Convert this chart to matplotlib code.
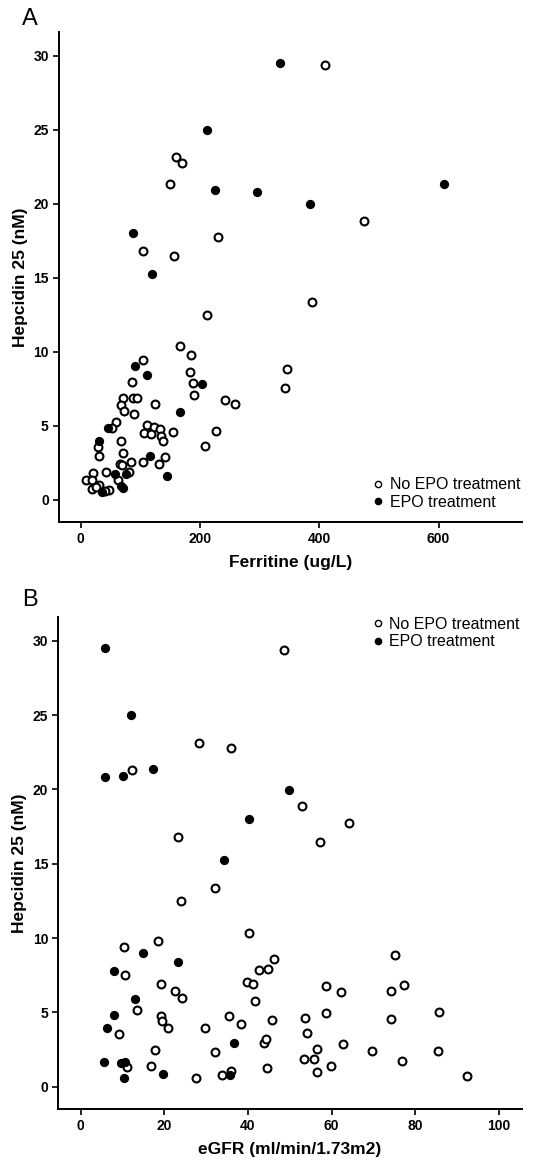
import numpy as np
import matplotlib.pyplot as plt
from matplotlib.lines import Line2D

plt.rcParams['font.family'] = ['Liberation Sans', 'DejaVu Sans']

# Panel A: ferritine (ug/L) vs hepcidin 25 (nM)
ferr_no = [410, 160, 169, 149, 475, 230, 105, 157, 387, 212,
           166, 185, 104, 183, 345, 85, 188, 343, 70, 88, 95, 189,
           68, 124, 242, 258, 72, 89, 59, 53, 111, 122, 133, 106, 118,
           134, 138, 154, 227, 28, 31, 67, 71, 208, 141, 131, 105, 84,
           65, 69, 43, 80, 20,
           8, 18, 30, 19, 47, 63, 25, 40]
hep_no_a = [29.39, 23.13, 22.75, 21.3, 18.85, 17.77, 16.78, 16.46, 13.35, 12.48,
            10.38, 9.80, 9.44, 8.60, 8.83, 7.93, 7.86, 7.52, 6.89, 6.89, 6.89, 7.07,
            6.40, 6.46, 6.76, 6.46, 5.99, 5.79, 5.23, 4.82, 5.04, 4.93, 4.77, 4.48, 4.44,
            4.28, 3.99, 4.57, 4.64, 3.56, 2.97, 3.94, 3.18, 3.63, 2.91, 2.43, 2.52, 2.52,
            2.39, 2.32, 1.89, 1.87, 1.78,
            1.31, 1.31, 1.01, 0.72, 0.68, 1.31, 0.88, 0.60]

ferr_epo = [334, 211, 225, 295, 609, 384, 87, 120,
            90, 111, 203, 166, 46, 31, 116,
            75, 58, 145, 36, 67, 70]
hep_epo_a = [29.53, 24.98, 20.92, 20.77, 21.35, 20.0, 18.0, 15.25,
             9.03, 8.42, 7.81, 5.95, 4.86, 3.94, 2.97,
             1.73, 1.76, 1.60, 0.56, 0.90, 0.83]

# Panel B: eGFR (ml/min/1.73m2) vs hepcidin 25 (nM)
egfr_no = [48.7, 28.3, 35.9, 12.4, 52.8, 64.2, 23.3, 57.3, 32.1, 23.9,
           40.2, 10.3, 18.5, 46.2, 42.7, 44.9, 10.6, 39.8, 41.3, 19.1,
           22.5, 24.3, 41.7, 13.5, 9.2, 19.1, 19.4, 21.0, 17.7, 29.8,
           35.5, 38.3, 45.8, 32.1, 43.8, 44.4, 53.7, 54.0, 58.7, 58.6,
           56.6, 62.8, 53.3, 55.7,
           75.1, 62.2, 74.2, 77.4, 85.7, 74.3, 69.6, 85.4, 76.8,
           11.1, 16.9, 59.8, 44.5, 27.5, 33.8, 36.0, 56.6, 92.4]
hep_no_b = [29.4, 23.12, 22.76, 21.33, 18.86, 17.77, 16.77, 16.45, 13.36, 12.46,
            10.37, 9.43, 9.79, 8.57, 7.88, 7.90, 7.50, 7.07, 6.91, 6.91,
            6.46, 5.95, 5.77, 5.19, 3.52, 4.74, 4.44, 3.97, 2.49, 3.97,
            4.78, 4.24, 4.49, 2.31, 2.94, 3.19, 4.62, 3.61, 6.76, 4.94,
            2.51, 2.87, 1.86, 1.86,
            8.84, 6.40, 6.44, 6.87, 5.05, 4.56, 2.38, 2.38, 1.71,
            1.30, 1.37, 1.41, 1.28, 0.58, 0.79, 1.03, 0.99, 0.69]

egfr_epo = [5.8, 12.1, 5.8, 10.2, 17.4, 49.8, 40.2, 34.2,
            14.9, 23.4, 7.9, 12.9, 7.9, 6.3, 36.7,
            5.6, 9.7, 10.6, 19.6, 10.3, 35.6]
hep_epo_b = [29.54, 24.98, 20.81, 20.92, 21.37, 19.98, 18.0, 15.26,
             9.02, 8.42, 7.81, 5.93, 4.85, 3.93, 2.96,
             1.68, 1.57, 1.68, 0.85, 0.56, 0.79]

W, H = 533, 1162
fig = plt.figure(figsize=(W / 100, H / 100), dpi=100)


def px_axes(left, top, right, bottom):
    return fig.add_axes([left / W, 1 - bottom / H, (right - left) / W, (bottom - top) / H])


def style(ax):
    for s in ['top', 'right']:
        ax.spines[s].set_visible(False)
    for s in ['left', 'bottom']:
        ax.spines[s].set_linewidth(1.4)
    ax.tick_params(direction='out', length=4, width=1.2, pad=3, labelsize=10)
    for lab in ax.get_xticklabels() + ax.get_yticklabels():
        lab.set_fontweight('bold')


def draw(ax, x_no, y_no, x_epo, y_epo):
    ax.scatter(x_no, y_no, s=32, facecolors='white', edgecolors='black', linewidths=1.5, zorder=3)
    ax.scatter(x_epo, y_epo, s=32, color='black', zorder=3)


handles = [Line2D([], [], marker='o', ls='', mfc='white', mec='black', mew=1.0, ms=4.5),
           Line2D([], [], marker='o', ls='', mfc='black', mec='black', ms=4.5)]
names = ['No EPO treatment', 'EPO treatment']

# panel A
ax1 = px_axes(58.5, 32, 522, 522)
draw(ax1, ferr_no, hep_no_a, ferr_epo, hep_epo_a)
ax1.set_xlim(-37.5, 740)
ax1.set_ylim(-1.5, 31.6)
ax1.set_xticks([0, 200, 400, 600])
ax1.set_yticks([0, 5, 10, 15, 20, 25, 30])
style(ax1)
ax1.set_xlabel('Ferritine (ug/L)', fontsize=12.5, fontweight='bold', labelpad=7)
ax1.set_ylabel('Hepcidin 25 (nM)', fontsize=12.5, fontweight='bold', labelpad=4)
ax1.legend(handles, names, loc='lower left', bbox_to_anchor=(0.68, 0.025), frameon=False,
           fontsize=11.5, handlelength=0.6, handletextpad=0.4, borderpad=0, borderaxespad=0,
           labelspacing=0.15)
fig.text(22 / W, 1 - 19 / H, 'A', fontsize=17, va='center', ha='left')

# panel B
ax2 = px_axes(58, 617, 522, 1109)
draw(ax2, egfr_no, hep_no_b, egfr_epo, hep_epo_b)
ax2.set_xlim(-5.4, 105.5)
ax2.set_ylim(-1.5, 31.6)
ax2.set_xticks([0, 20, 40, 60, 80, 100])
ax2.set_yticks([0, 5, 10, 15, 20, 25, 30])
style(ax2)
ax2.set_xlabel('eGFR (ml/min/1.73m2)', fontsize=12.5, fontweight='bold', labelpad=7)
ax2.set_ylabel('Hepcidin 25 (nM)', fontsize=12.5, fontweight='bold', labelpad=4)
ax2.legend(handles, names, loc='upper left', bbox_to_anchor=(0.68, 1.0), frameon=False,
           fontsize=11.5, handlelength=0.6, handletextpad=0.4, borderpad=0, borderaxespad=0,
           labelspacing=0.15)
fig.text(22 / W, 1 - 600 / H, 'B', fontsize=17, va='center', ha='left')

fig.savefig('out.png', dpi=100)
